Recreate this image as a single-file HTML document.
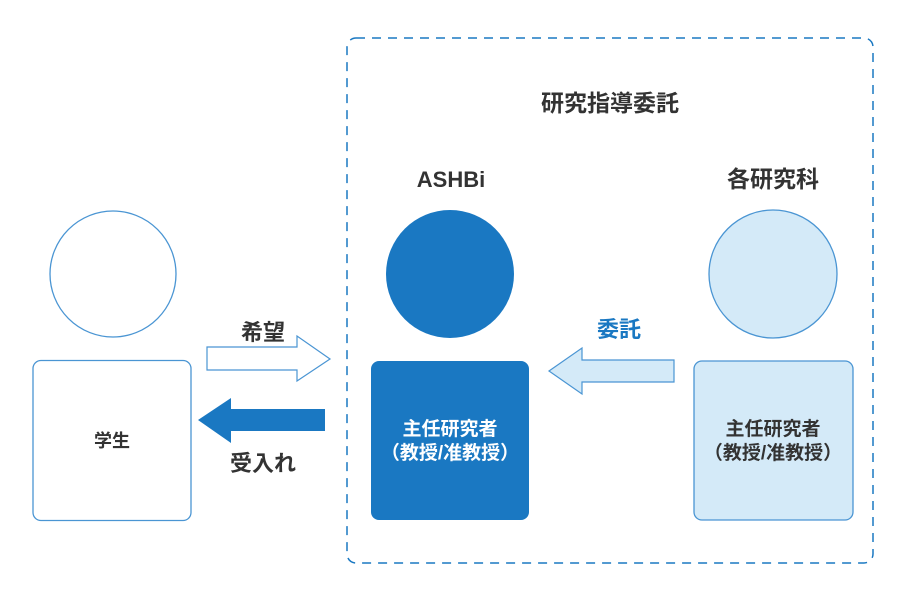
<!DOCTYPE html>
<html><head><meta charset="utf-8"><style>
html,body{margin:0;padding:0;background:#fff;}
svg{display:block;}
text{font-family:"Liberation Sans","Noto Sans CJK JP",sans-serif;}
</style></head><body>
<svg width="900" height="601" viewBox="0 0 900 601" xmlns="http://www.w3.org/2000/svg">
<rect x="347" y="38" width="526" height="525" rx="9" fill="none" stroke="#1a78c2" stroke-width="1.5" stroke-dasharray="9,7"/>
<text x="610" y="111" font-size="23" font-weight="bold" fill="#333" text-anchor="middle">研究指導委託</text>
<text x="451" y="187" font-size="22" font-weight="bold" fill="#333" text-anchor="middle">ASHBi</text>
<text x="773" y="187" font-size="23" font-weight="bold" fill="#333" text-anchor="middle">各研究科</text>

<circle cx="113" cy="274" r="63" fill="#fff" stroke="#4a95d3" stroke-width="1.3"/>
<rect x="33" y="360.5" width="158" height="160" rx="8" fill="#fff" stroke="#4a95d3" stroke-width="1.3"/>
<text x="112" y="447" font-size="18" font-weight="bold" fill="#333" text-anchor="middle">学生</text>

<circle cx="450" cy="274" r="64" fill="#1a78c2"/>
<rect x="371" y="361" width="158" height="159" rx="8" fill="#1a78c2"/>
<text x="450" y="435" font-size="19" font-weight="bold" fill="#fff" text-anchor="middle">主任研究者</text>
<text x="450" y="459" font-size="19" font-weight="bold" fill="#fff" text-anchor="middle">（教授/准教授）</text>

<circle cx="773" cy="274" r="64" fill="#d4eaf8" stroke="#4a95d3" stroke-width="1.3"/>
<rect x="694" y="361" width="159" height="159" rx="8" fill="#d4eaf8" stroke="#4a95d3" stroke-width="1.3"/>
<text x="773" y="435" font-size="19" font-weight="bold" fill="#333" text-anchor="middle">主任研究者</text>
<text x="773" y="459" font-size="19" font-weight="bold" fill="#333" text-anchor="middle">（教授/准教授）</text>

<polygon points="207,347 297,347 297,336 330,359 297,381 297,370 207,370" fill="#fff" stroke="#4a95d3" stroke-width="1.2"/>
<text x="263" y="340" font-size="22" font-weight="bold" fill="#333" text-anchor="middle">希望</text>

<polygon points="198,420 231,398 231,409 325,409 325,431 231,431 231,443" fill="#1a78c2"/>
<text x="263" y="471" font-size="22" font-weight="bold" fill="#333" text-anchor="middle">受入れ</text>

<polygon points="549,371 582,348 582,360 674,360 674,382 582,382 582,394" fill="#d4eaf8" stroke="#4a95d3" stroke-width="1.2"/>
<text x="619" y="337" font-size="22" font-weight="bold" fill="#1a78c2" text-anchor="middle">委託</text>
</svg>
</body></html>
